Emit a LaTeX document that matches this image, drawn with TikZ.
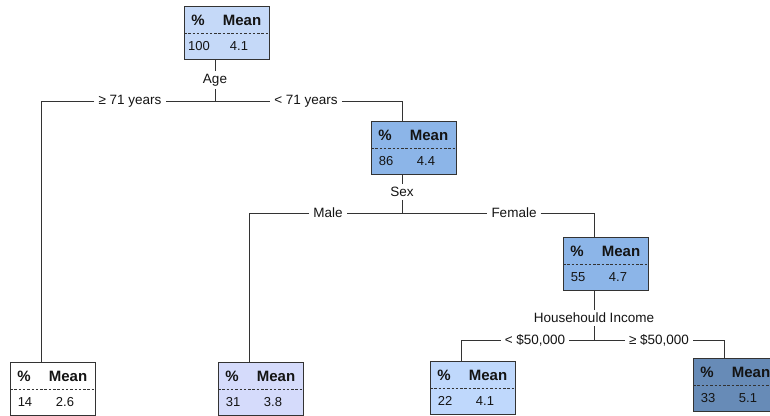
\documentclass[tikz,border=0pt]{standalone}
\usepackage{fontspec}
\setmainfont{Liberation Sans}
\usepackage{tikz}
\usepackage{xcolor}
\usetikzlibrary{positioning,calc}
\definecolor{ink}{HTML}{141414}
\definecolor{wire}{HTML}{333333}
\definecolor{paleblue}{HTML}{C5D9F8}
\definecolor{midblue}{HTML}{8CB5E8}
\definecolor{lilac}{HTML}{D5DBFB}
\definecolor{skyblue}{HTML}{BFD8FC}
\definecolor{steelblue}{HTML}{678BB7}
\tikzset{
  treebox/.style={draw=wire,line width=0.9pt,minimum width=85pt,
                  minimum height=53pt,inner sep=0pt,anchor=north west},
  cutline/.style={draw=wire,line width=0.8pt,dash pattern=on 2.5pt off 1.8pt},
  headtxt/.style={font=\fontsize{15}{17}\selectfont\bfseries,text=ink,inner sep=0pt},
  valtxt/.style={font=\fontsize{13}{16}\selectfont,text=ink,inner sep=0pt},
  splitlbl/.style={font=\fontsize{13.5}{16}\selectfont,text=ink,inner sep=3pt},
  edgelbl/.style={font=\fontsize{13.5}{16}\selectfont,text=ink,inner sep=4pt},
  link/.style={draw=wire,line width=0.9pt}
}
% box: name, left, top, fill, percent, mean
\newcommand{\splitbox}[6]{%
  \node[treebox,fill=#4] (#1) at (#2,#3) {};
  \draw[cutline] (#1.west) -- (#1.east);
  \node[headtxt] (#1-pc) at ($(#1.north west)+(14,14)$) {\%};
  \node[headtxt] (#1-mn) at ($(#1.north west)+(58,14)$) {Mean};
  \node[valtxt] (#1-a) at ($(#1.north west)+(15,40)$) {#5};
  \node[valtxt] (#1-b) at ($(#1.north west)+(55,40)$) {#6};
  \coordinate (#1-top) at ($(#1.north west)+(31,0)$);
  \coordinate (#1-bot) at ($(#1.south west)+(31,0)$);
}
\begin{document}
\begin{tikzpicture}[x=1pt,y=-1pt]
  \useasboundingbox (0,0) rectangle (770,415);
  \fill[white] (0,0) rectangle (770,415);
  \clip (0,0) rectangle (770,415);
  \splitbox{root}{184}{6}{paleblue}{100}{4.1}
  \splitbox{b86}{371}{121}{midblue}{86}{4.4}
  \splitbox{b55}{563}{237}{midblue}{55}{4.7}
  \splitbox{b14}{10}{362}{white}{14}{2.6}
  \splitbox{b31}{218}{362}{lilac}{31}{3.8}
  \splitbox{b22}{430}{361}{skyblue}{22}{4.1}
  \splitbox{b33}{693}{358}{steelblue}{33}{5.1}

  % first split
  \node[splitlbl] (age) at (215,80) {Age};
  \coordinate (age-j) at (215,101);
  \node[edgelbl] (ge71) at (130,101) {≥ 71 years};
  \node[edgelbl] (lt71) at (306,101) {< 71 years};
  \draw[link] (root-bot) -- (age);
  \draw[link] (age) -- (age-j);
  \draw[link] (age-j) -- (ge71);
  \draw[link] (ge71) -| (b14-top);
  \draw[link] (age-j) -- (lt71);
  \draw[link] (lt71) -| (b86-top);

  % second split
  \node[splitlbl] (sex) at (402,192) {Sex};
  \coordinate (sex-j) at (402,213);
  \node[edgelbl] (male) at (328,213) {Male};
  \node[edgelbl] (female) at (514,213) {Female};
  \draw[link] (b86-bot) -- (sex);
  \draw[link] (sex) -- (sex-j);
  \draw[link] (sex-j) -- (male);
  \draw[link] (male) -| (b31-top);
  \draw[link] (sex-j) -- (female);
  \draw[link] (female) -| (b55-top);

  % third split
  \node[splitlbl] (inc) at (594,318) {Househould Income};
  \coordinate (inc-j) at (594,340);
  \node[edgelbl] (lt50) at (535,340) {< \$50,000};
  \node[edgelbl] (ge50) at (659,340) {≥ \$50,000};
  \draw[link] (b55-bot) -- (inc);
  \draw[link] (inc) -- (inc-j);
  \draw[link] (inc-j) -- (lt50);
  \draw[link] (lt50) -| (b22-top);
  \draw[link] (inc-j) -- (ge50);
  \draw[link] (ge50) -| (b33-top);
\end{tikzpicture}
\end{document}
